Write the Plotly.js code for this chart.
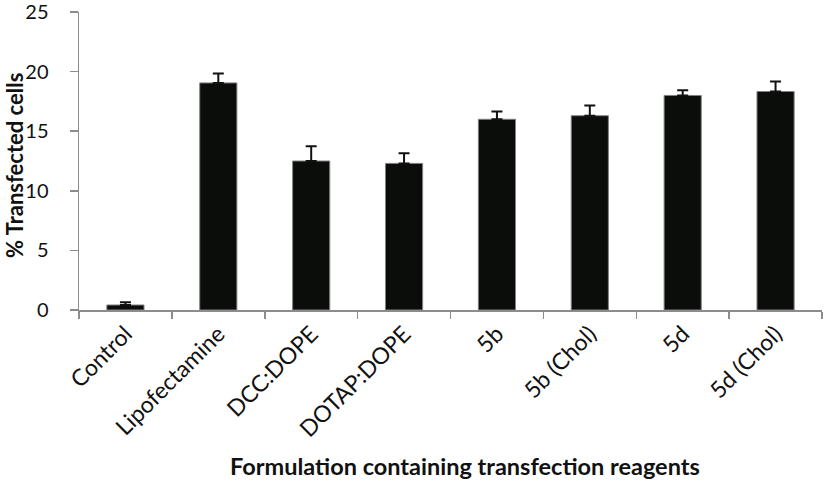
<!DOCTYPE html>
<html>
<head>
<meta charset="utf-8">
<script src="https://cdn.plot.ly/plotly-3.0.1.min.js"></script>
<style>html,body{margin:0;padding:0;background:#fff;}#chart{width:826px;height:483px;}</style>
</head>
<body>
<div id="chart"></div>
<script>
var categories = ["Control", "Lipofectamine", "DCC:DOPE", "DOTAP:DOPE", "5b", "5b (Chol)", "5d", "5d (Chol)"];
var values = [0.42, 19.05, 12.5, 12.3, 16.0, 16.3, 18.0, 18.33];
var errors = [0.22, 0.8, 1.23, 0.85, 0.65, 0.85, 0.44, 0.83];
var yTicks = [0, 5, 10, 15, 20, 25];

var FONT = "Lato, 'Open Sans', sans-serif";

var trace = {
  type: "bar",
  x: categories,
  y: values,
  marker: {color: "#0b0d0b", line: {color: "#808080", width: 1}},
  error_y: {type: "data", array: errors, symmetric: false, arrayminus: errors.map(function(){return 0;}),
            color: "#111111", thickness: 2, width: 5.5},
  hoverinfo: "none"
};

var layout = {
  width: 826, height: 483,
  margin: {l: 79, r: 4, t: 12, b: 173},
  paper_bgcolor: "#ffffff", plot_bgcolor: "#ffffff",
  bargap: 0.6,
  showlegend: false,
  font: {family: FONT, color: "#111111"},
  xaxis: {
    type: "category",
    tickangle: -45,
    tickson: "boundaries",
    ticks: "outside", ticklen: 7, tickcolor: "#8c8c8c", tickwidth: 1.5,
    showline: true, linecolor: "#8c8c8c", linewidth: 1.5,
    showgrid: false, zeroline: false,
    tickfont: {family: FONT, size: 23, color: "#111111"}
  },
  yaxis: {
    range: [0, 25],
    tickvals: yTicks,
    ticktext: yTicks.map(String),
    ticklabeloverflow: "allow",
    ticklabelstandoff: 17,
    ticks: "outside", ticklen: 8, tickcolor: "#8c8c8c", tickwidth: 1.5,
    showline: true, linecolor: "#8c8c8c", linewidth: 1.5,
    showgrid: false, zeroline: false,
    tickfont: {family: FONT, size: 20, color: "#111111"}
  },
  annotations: [
    {text: "<b>Formulation containing transfection reagents</b>", xref: "paper", yref: "paper",
     x: (465 - 79) / (822 - 79), y: (310 - 466) / 298, xanchor: "center", yanchor: "middle",
     showarrow: false, font: {family: FONT, size: 23.5, color: "#111111"}},
    {text: "<b>% Transfected cells</b>", xref: "paper", yref: "paper",
     x: (14 - 79) / 743, y: (310 - 166) / 298, xanchor: "center", yanchor: "middle",
     textangle: -90, showarrow: false, font: {family: FONT, size: 22, color: "#111111"}}
  ]
};

Plotly.newPlot("chart", [trace], layout, {staticPlot: true, displayModeBar: false});
</script>
</body>
</html>
